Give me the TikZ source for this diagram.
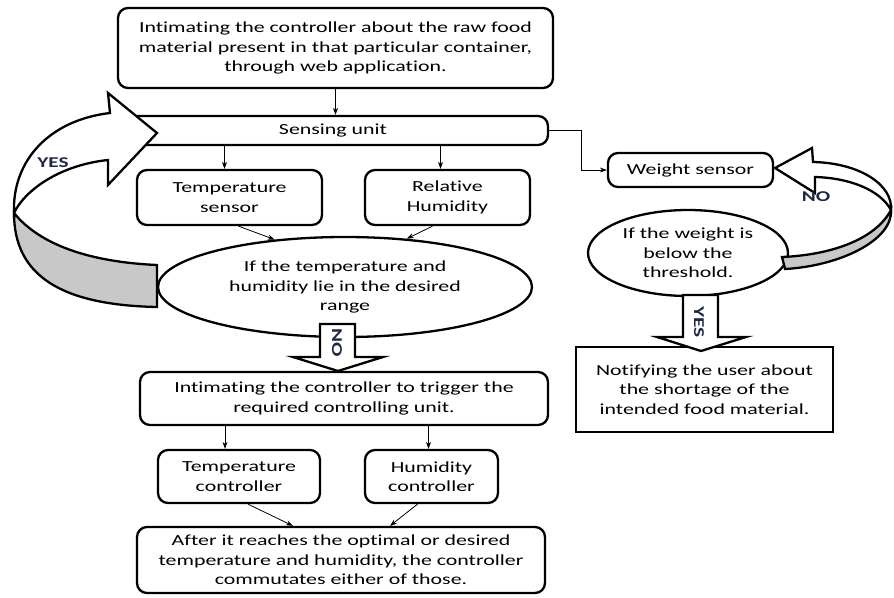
\documentclass[tikz,border=0pt]{standalone}
\usepackage{fontspec}
\setmainfont{Carlito}[FakeStretch=1.42,Ligatures=NoCommon]
\usetikzlibrary{arrows.meta,shapes.geometric}
\definecolor{ribbon}{RGB}{200,200,200}
\definecolor{lblblue}{RGB}{30,40,70}

\begin{document}
\begin{tikzpicture}[x=1pt,y=-1pt,
   box/.style={draw,line width=2.3pt,rounded corners=10pt,align=center,inner sep=0pt,
               font=\fontsize{15.4}{19.5}\selectfont},
   oval/.style={draw,ellipse,line width=2.3pt,align=center,inner sep=0pt,
               font=\fontsize{15.4}{19.5}\selectfont},
   arr/.style={-{Stealth[length=7pt,width=5pt]},line width=0.8pt},
   blk/.style={draw,line width=2.3pt,fill=white,line join=miter},
   lbl/.style={text=lblblue,font=\fontsize{15}{15}\selectfont\bfseries}]

   \useasboundingbox (0,0) rectangle (894,597);

   % boxes
   \node[box,minimum width=435pt,minimum height=80pt] (intim) at (335.5,48)
      {Intimating the controller about the raw food\\ material present in that particular container,\\ through web application.};
   \node[box,minimum width=430pt,minimum height=29pt] (sense) at (333,130.5) {Sensing unit};
   \node[box,minimum width=185pt,minimum height=55pt] (tsens) at (229.5,197.5) {Temperature\\ sensor};
   \node[box,minimum width=165pt,minimum height=55pt] (rhum) at (447.5,197.5) {Relative\\ Humidity};
   \node[oval,minimum width=374pt,minimum height=100pt] (range) at (345,287)
      {If the temperature and\\ humidity lie in the desired\\ range};
   \node[box,minimum width=408pt,minimum height=53pt] (trig) at (344,398.5)
      {Intimating the controller to trigger the\\ required controlling unit.};
   \node[box,minimum width=162pt,minimum height=53pt] (tctl) at (239,476.5) {Temperature\\ controller};
   \node[box,minimum width=133pt,minimum height=53pt] (hctl) at (431.5,476.5) {Humidity\\ controller};
   \node[box,minimum width=408pt,minimum height=66pt] (optim) at (341,560)
      {After it reaches the optimal or desired\\ temperature and humidity, the controller\\ commutates either of those.};
   \node[box,minimum width=165pt,minimum height=34pt] (wsens) at (690.5,170) {Weight sensor};
   \node[oval,minimum width=200pt,minimum height=86pt] (thresh) at (688,253)
      {If the weight is\\ below the\\ threshold.};
   \node[box,sharp corners,minimum width=257pt,minimum height=85pt] (notify) at (704.5,389.5)
      {Notifying the user about\\ the shortage of the\\ intended food material.};

   % thin arrows
   \draw[arr] (intim.south) -- (intim.south |- sense.north);
   \draw[arr] ([xshift=-5pt]tsens.north |- sense.south) -- ([xshift=-5pt]tsens.north);
   \draw[arr] ([xshift=-7pt]rhum.north |- sense.south) -- ([xshift=-7pt]rhum.north);
   \draw[arr] ([xshift=9pt]tsens.south) -- (range.146);
   \draw[arr] ([xshift=-15pt]rhum.south) -- (range.38);
   \draw[arr] ([xshift=-14pt]tctl.north |- trig.south) -- ([xshift=-14pt]tctl.north);
   \draw[arr] ([xshift=-3pt]hctl.north |- trig.south) -- ([xshift=-3pt]hctl.north);
   \draw[arr] ([xshift=9pt]tctl.south) -- ([xshift=-48pt]optim.north);
   \draw[arr] ([xshift=-14pt]hctl.south) -- ([xshift=49pt]optim.north);
   \draw[arr] (sense.east) -- ++(32,0) |- (wsens.west);

   % block arrows
   \draw[blk] (320,324) -- (355,324) -- (355,357) -- (383,357) -- (338,371) -- (293,357) -- (320,357) -- cycle;
   \node[lbl,rotate=-90] (noA) at (337,343) {NO};
   \draw[blk] (683,295) -- (718,295) -- (718,337) -- (746,337) -- (701,351) -- (657,337) -- (683,337) -- cycle;
   \node[lbl,rotate=-90] (yesB) at (699,322) {YES};

   % left ribbon (yes)
   \draw[blk,fill=ribbon] (14,213) .. controls (40,245) and (90,262) .. (157,265) -- (157,307)
      .. controls (60,305) and (14,275) .. (14,213) -- cycle;
   \draw[blk] (14,213) .. controls (25,190) and (60,165) .. (108,160) -- (108,185) -- (157,133)
      -- (108,93) -- (110,113) .. controls (50,120) and (12,160) .. (14,213) -- cycle;
   \node[lbl] (yesA) at (53,163) {YES};

   % right ribbon (no)
   \draw[blk,fill=ribbon] (891,210) .. controls (875,240) and (830,255) .. (782,257) -- (785,269)
      .. controls (840,266) and (893,240) .. (891,210) -- cycle;
   \draw[blk] (891,210) .. controls (880,190) and (850,178) .. (815,177) -- (815,193) -- (775,168)
      -- (812,148) -- (813,162) .. controls (860,163) and (893,185) .. (891,210) -- cycle;
   \node[lbl] (noB) at (816,197) {NO};
\end{tikzpicture}
\end{document}
